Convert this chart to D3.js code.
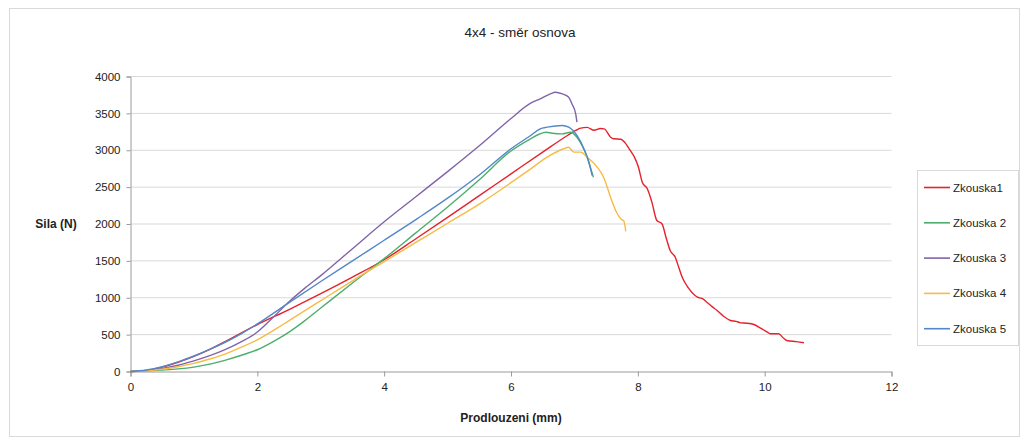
<!DOCTYPE html>
<html>
<head>
<meta charset="utf-8">
<script src="https://cdn.jsdelivr.net/npm/d3@7"></script>
<style>
  html, body { margin: 0; padding: 0; background: #fff; }
  svg text { font-family: "Liberation Sans", "DejaVu Sans", sans-serif; fill: #222; }
</style>
</head>
<body>
<svg id="chart" width="1022" height="441"></svg>
<script>
// Tensile test curves: force (N) versus elongation (mm)
const seriesNames = ["Zkouska1", "Zkouska 2", "Zkouska 3", "Zkouska 4", "Zkouska 5"];
const seriesColors = ["#e5222c", "#4cae6c", "#8064a8", "#f7bb45", "#5487c8"];

const zkouska1 = [
  [0,0],[0.25,15],[0.5,60],[0.75,125],[1,205],[1.25,300],[1.5,410],[1.75,525],[2,635],
  [2.5,840],[3,1055],[3.5,1280],[4,1515],[4.5,1800],[5,2090],[5.5,2385],[6,2680],
  [6.5,2975],[6.89,3200],[7.02,3268],[7.1,3300],[7.2,3310],[7.31,3272],
  [7.41,3295],[7.47,3290],[7.57,3177],[7.62,3155],[7.73,3150],[7.8,3100],[7.88,2997],
  [7.95,2900],[8.01,2770],[8.07,2567],[8.15,2477],[8.22,2300],[8.3,2047],[8.38,2003],
  [8.45,1800],[8.51,1641],[8.59,1550],[8.65,1400],[8.7,1279],[8.8,1130],[8.94,1008],
  [9.01,990],[9.09,940],[9.17,880],[9.25,827],[9.35,750],[9.46,692],[9.55,680],
  [9.62,660],[9.72,655],[9.83,637],[9.95,580],[10.05,530],[10.09,511],[10.22,511],
  [10.3,450],[10.35,420],[10.5,405],[10.62,389]
];
const zkouska2 = [
  [0,0],[0.25,8],[0.5,20],[0.75,35],[1,60],[1.25,100],[1.5,155],[1.75,220],[2,295],
  [2.25,405],[2.5,535],[2.75,690],[3,860],[3.5,1200],[4,1530],[4.5,1880],[5,2230],
  [5.5,2600],[6,2990],[6.31,3155],[6.45,3220],[6.55,3245],[6.65,3231],[6.81,3222],
  [6.94,3245],[7.04,3177],[7.12,3064],[7.2,2906],[7.25,2770],[7.3,2635]
];
const zkouska3 = [
  [0,0],[0.25,12],[0.5,40],[0.75,85],[1,145],[1.25,215],[1.5,300],[1.75,405],[2,535],
  [2.25,735],[2.5,945],[2.75,1130],[3,1300],[3.5,1665],[4,2030],[4.5,2370],[5,2710],
  [5.5,3060],[6,3430],[6.31,3638],[6.46,3697],[6.62,3765],[6.7,3787],[6.81,3765],
  [6.91,3720],[6.96,3630],[7.02,3494],[7.04,3381]
];
const zkouska4 = [
  [0,0],[0.25,10],[0.5,30],[0.75,65],[1,110],[1.25,170],[1.5,240],[1.75,330],[2,430],
  [2.25,555],[2.5,690],[2.75,825],[3,960],[3.5,1230],[4,1490],[4.5,1750],[5,2010],
  [5.5,2270],[6,2560],[6.3,2740],[6.57,2906],[6.83,3020],[6.91,3040],[6.99,2974],
  [7.1,2974],[7.2,2906],[7.36,2770],[7.46,2635],[7.57,2363],[7.65,2183],[7.73,2070],
  [7.78,2040],[7.81,1900]
];
const zkouska5 = [
  [0,0],[0.25,20],[0.5,65],[0.75,130],[1,210],[1.25,300],[1.5,400],[1.75,515],[2,645],
  [2.5,935],[3,1220],[3.5,1500],[4,1780],[4.5,2060],[5,2350],[5.5,2665],[6,3020],
  [6.31,3200],[6.46,3291],[6.57,3313],[6.81,3336],[6.91,3313],[7.04,3200],[7.15,3020],
  [7.23,2838],[7.28,2658]
];
const seriesData = [zkouska1, zkouska2, zkouska3, zkouska4, zkouska5];

const xTicks = [0, 2, 4, 6, 8, 10, 12];
const yTicks = [0, 500, 1000, 1500, 2000, 2500, 3000, 3500, 4000];

const chartTitle = "4x4 - směr osnova";
const xTitle = "Prodlouzeni (mm)";
const yTitle = "Sila (N)";

const svg = d3.select("#chart");

// outer chart frame
svg.append("rect")
  .attr("x", 9.5).attr("y", 8.5).attr("width", 1010).attr("height", 428)
  .attr("fill", "#fff").attr("stroke", "#d9d9d9");

const x = d3.scaleLinear().domain([0, 12]).range([130.5, 891.5]);
const y = d3.scaleLinear().domain([0, 4000]).range([371.5, 76.5]);

// horizontal gridlines
svg.append("g")
  .selectAll("line")
  .data(yTicks.filter(t => t > 0))
  .join("line")
  .attr("x1", x(0)).attr("x2", x(12))
  .attr("y1", d => y(d)).attr("y2", d => y(d))
  .attr("stroke", "#d9d9d9").attr("stroke-width", 1);

// y axis
const yAxis = svg.append("g")
  .attr("transform", `translate(${x(0)},0)`)
  .call(d3.axisLeft(y).tickValues(yTicks).tickSize(4).tickPadding(6).tickFormat(d3.format("d")));
yAxis.select(".domain").attr("stroke", "#9a9a9a");
yAxis.selectAll(".tick line").attr("stroke", "#9a9a9a");
yAxis.selectAll("text").attr("font-size", 11.5).attr("fill", "#222").attr("font-family", "Liberation Sans, sans-serif");

// x axis
const xAxis = svg.append("g")
  .attr("transform", `translate(0,${y(0)})`)
  .call(d3.axisBottom(x).tickValues(xTicks).tickSize(5).tickPadding(6).tickFormat(d3.format("d")));
xAxis.select(".domain").attr("stroke", "#9a9a9a");
xAxis.selectAll(".tick line").attr("stroke", "#9a9a9a");
xAxis.selectAll("text").attr("font-size", 11.5).attr("fill", "#222").attr("font-family", "Liberation Sans, sans-serif");

// curves
const line = d3.line()
  .x(d => x(d[0]))
  .y(d => y(d[1]))
  .curve(d3.curveMonotoneX);

svg.append("g")
  .selectAll("path")
  .data(seriesData)
  .join("path")
  .attr("d", line)
  .attr("fill", "none")
  .attr("stroke", (d, i) => seriesColors[i])
  .attr("stroke-width", 1.4)
  .attr("stroke-linejoin", "round");

// titles
svg.append("text")
  .attr("x", 520).attr("y", 37)
  .attr("text-anchor", "middle")
  .attr("font-size", 13.5).attr("fill", "#333")
  .text(chartTitle);

svg.append("text")
  .attr("x", 511).attr("y", 422)
  .attr("text-anchor", "middle")
  .attr("font-size", 12).attr("font-weight", "bold")
  .text(xTitle);

svg.append("text")
  .attr("x", 56).attr("y", 228)
  .attr("text-anchor", "middle")
  .attr("font-size", 12).attr("font-weight", "bold")
  .text(yTitle);

// legend
const legend = svg.append("g");
legend.append("rect")
  .attr("x", 917.5).attr("y", 170.5).attr("width", 101).attr("height", 175)
  .attr("fill", "#fff").attr("stroke", "#d9d9d9");

const items = legend.selectAll("g.item")
  .data(seriesNames)
  .join("g")
  .attr("class", "item")
  .attr("transform", (d, i) => `translate(0,${187.5 + i * 35.3})`);
items.append("line")
  .attr("x1", 924).attr("x2", 950)
  .attr("stroke", (d, i) => seriesColors[i])
  .attr("stroke-width", 1.6);
items.append("text")
  .attr("x", 953).attr("y", 4)
  .attr("font-size", 11.5).attr("fill", "#222")
  .text(d => d);
</script>
</body>
</html>
